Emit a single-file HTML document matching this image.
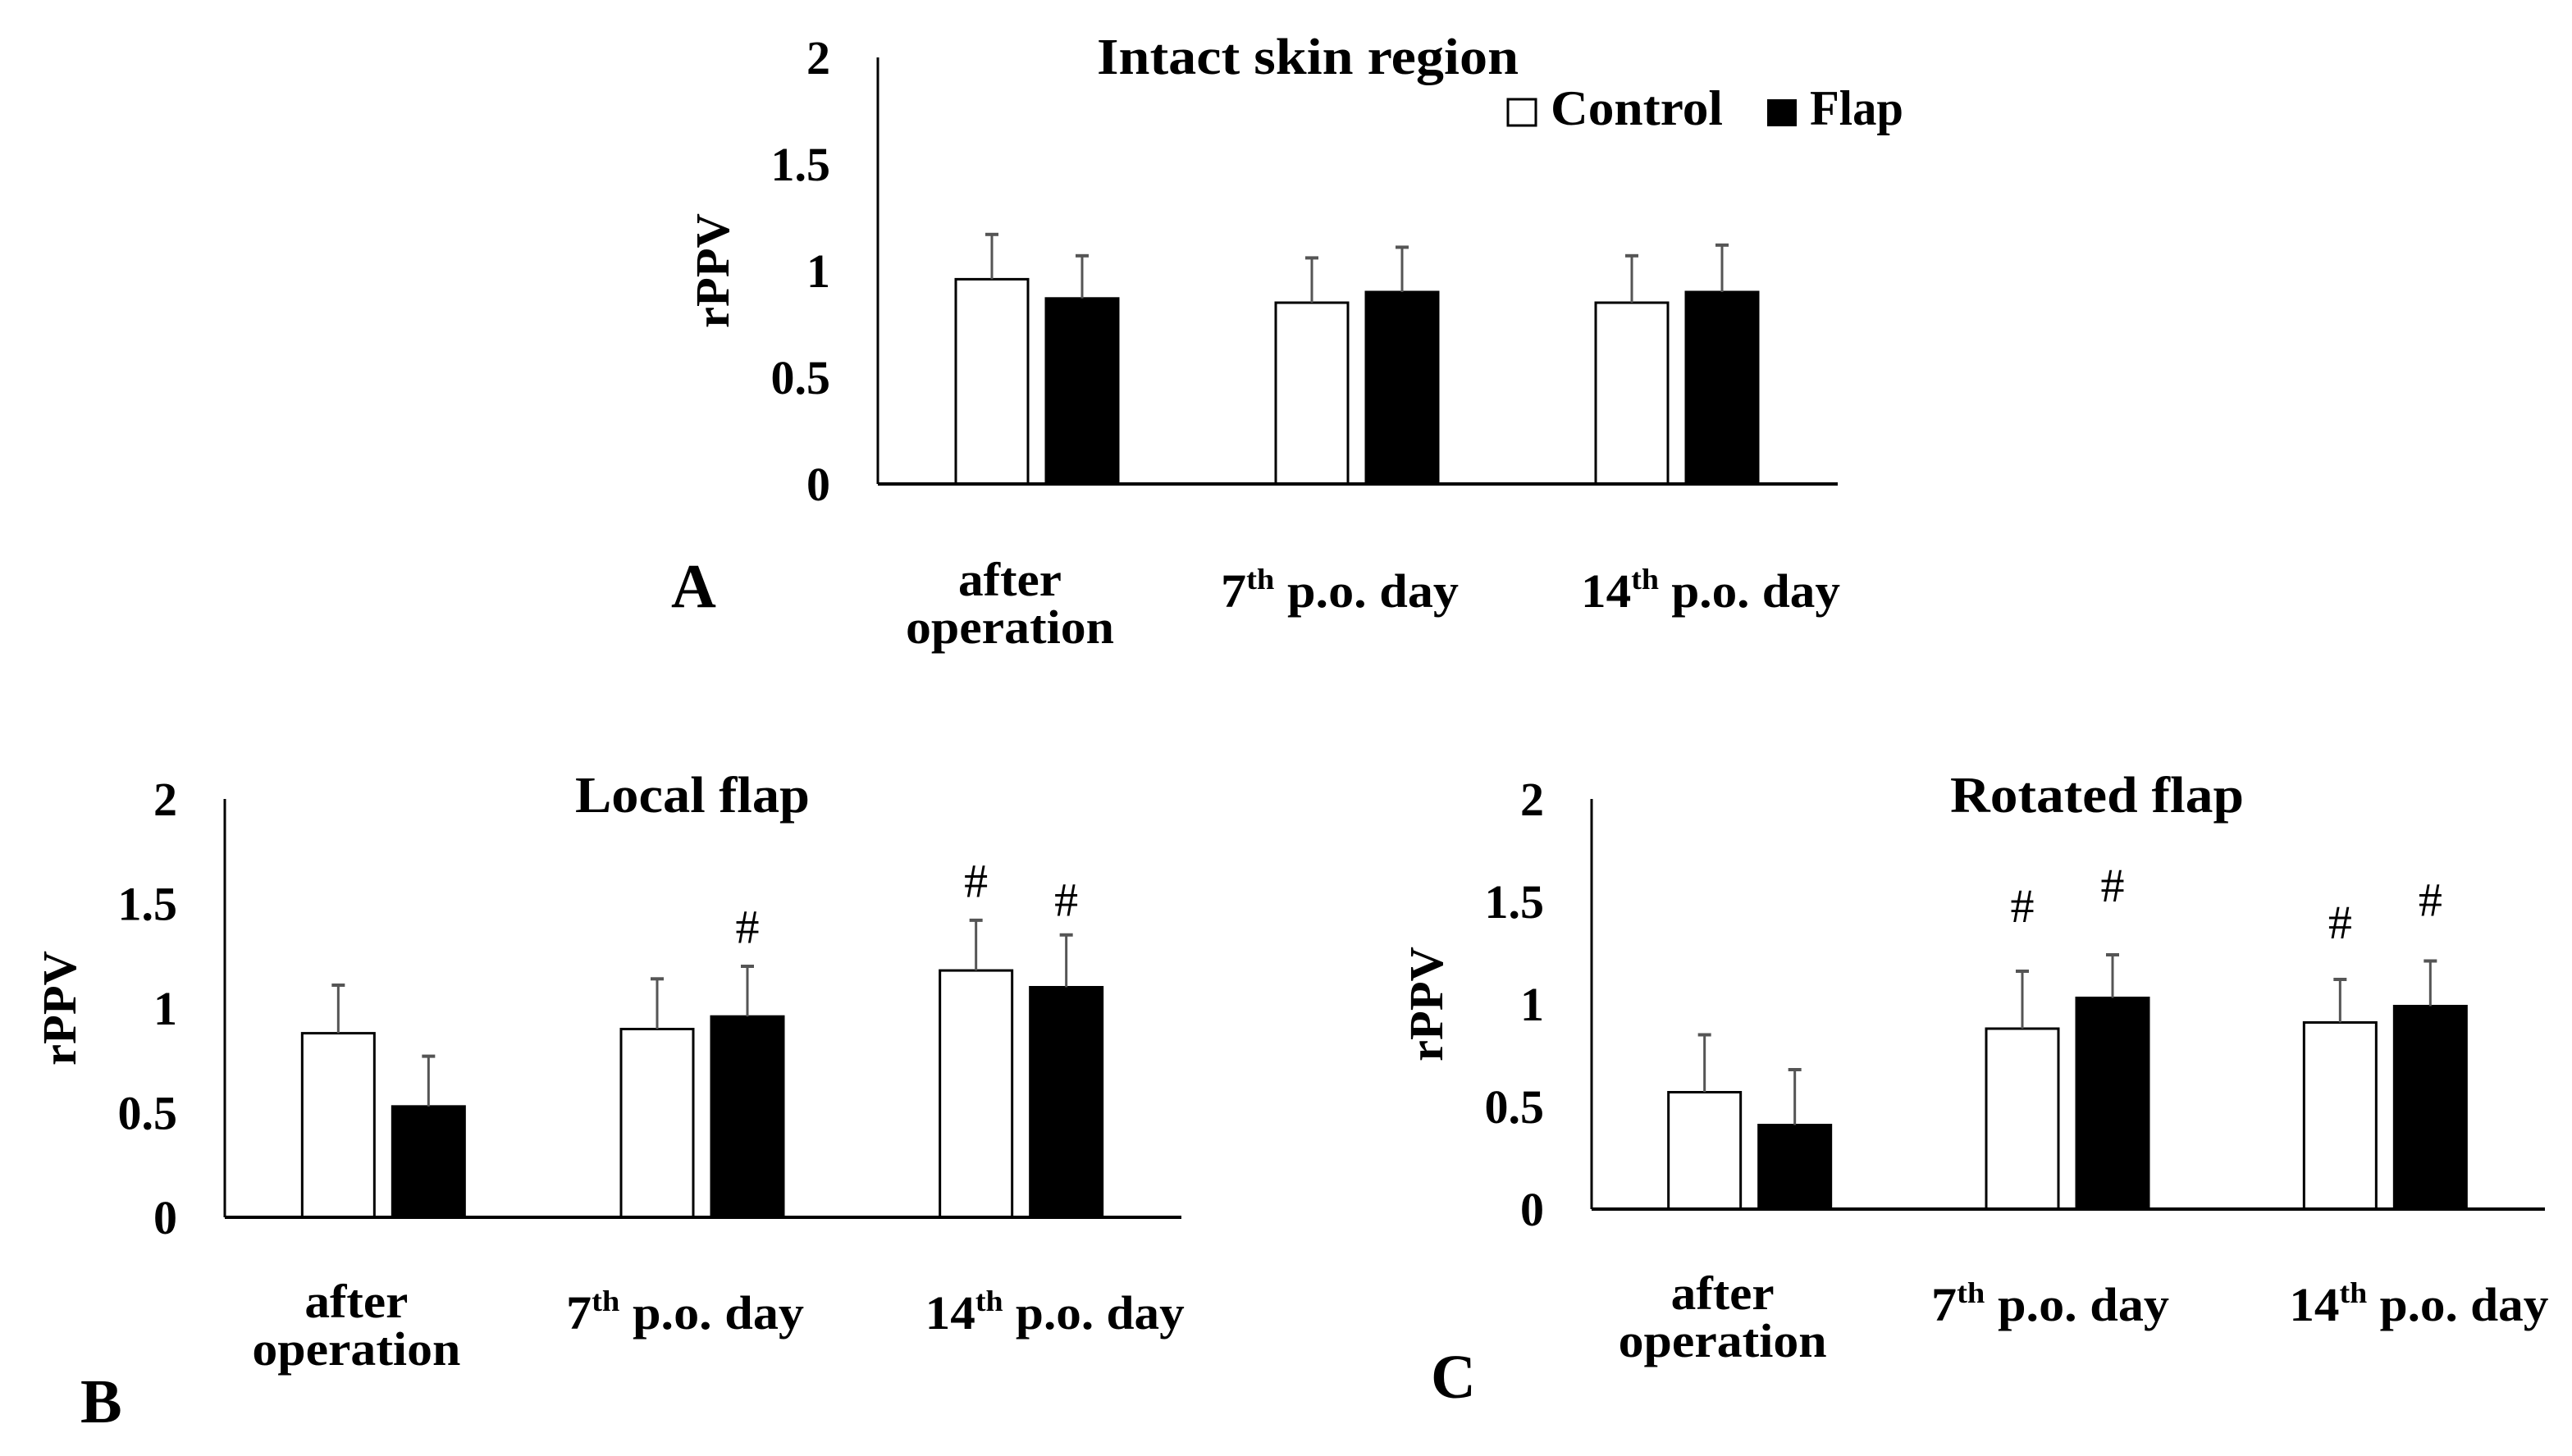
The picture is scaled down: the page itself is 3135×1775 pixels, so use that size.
<!DOCTYPE html>
<html><head><meta charset="utf-8">
<style>
html,body{margin:0;padding:0;background:#fff;}
svg{display:block;}
text{font-family:"Liberation Serif",serif;fill:#000;}
.b{font-weight:bold;}
</style></head>
<body>
<svg id="fig" width="3135" height="1775" viewBox="0 0 3135 1775" xmlns="http://www.w3.org/2000/svg">
<rect width="3135" height="1775" fill="#fff"/>
<g id="legend">
  <rect x="1838" y="121" width="34" height="32" fill="#fff" stroke="#000" stroke-width="3"/>
  <text class="b" x="1890" y="152" font-size="60" textLength="210" lengthAdjust="spacingAndGlyphs">Control</text>
  <rect x="2154" y="121" width="36" height="33" fill="#000"/>
  <text class="b" x="2206" y="152" font-size="60" textLength="114" lengthAdjust="spacingAndGlyphs">Flap</text>
</g>
</svg>
<script>
// ---- data ----
const categories = ["after operation", "7th p.o. day", "14th p.o. day"];
const yTicks = [0, 0.5, 1, 1.5, 2];
const yTickLabels = ["0", "0.5", "1", "1.5", "2"];

const intactControl = [0.96, 0.85, 0.85];
const intactControlErr = [0.21, 0.21, 0.22];
const intactFlap = [0.87, 0.90, 0.90];
const intactFlapErr = [0.20, 0.21, 0.22];

const localControl = [0.88, 0.90, 1.18];
const localControlErr = [0.23, 0.24, 0.24];
const localFlap = [0.53, 0.96, 1.10];
const localFlapErr = [0.24, 0.24, 0.25];
const localControlMark = [null, null, 1.61];
const localFlapMark = [null, 1.39, 1.52];

const rotatedControl = [0.57, 0.88, 0.91];
const rotatedControlErr = [0.28, 0.28, 0.21];
const rotatedFlap = [0.41, 1.03, 0.99];
const rotatedFlapErr = [0.27, 0.21, 0.22];
const rotatedControlMark = [null, 1.48, 1.40];
const rotatedFlapMark = [null, 1.58, 1.51];

const NS = "http://www.w3.org/2000/svg";
const svg = document.getElementById("fig");
function mk(tag, attrs, parent, txt) {
  const e = document.createElementNS(NS, tag);
  for (const k in attrs) e.setAttribute(k, attrs[k]);
  if (txt !== undefined) e.textContent = txt;
  parent.appendChild(e);
  return e;
}

function drawPanel(p) {
  const g = mk("g", {}, svg);
  
  
  const y = v => p.y0 - v * p.unit;
  const band = (p.xEnd - p.x0) / categories.length;
  const cx = i => p.x0 + band * (i + 0.5);

  const t = mk("text", {class: "b", x: p.titleX, y: p.titleY, "font-size": 62, "text-anchor": "middle", textLength: p.titleW, lengthAdjust: "spacingAndGlyphs"}, g, p.title);
  
  

  yTicks.forEach((v, i) => {
    const tl = mk("text", {class: "b", x: p.x0 - 58, y: y(v) + 20, "font-size": 58, "text-anchor": "end"}, g, yTickLabels[i]);
    
    
  });

  const yt = mk("text", {class: "b", x: 0, y: 0, "font-size": 58, "text-anchor": "middle", transform: `translate(${p.x0 - 182},${(p.y0 + y(2)) / 2}) rotate(-90)`, textLength: 140, lengthAdjust: "spacingAndGlyphs"}, g, "rPPV");
  
  

  const series = [
    {vals: p.control, err: p.controlErr, mark: p.controlMark, off: -100, fill: "#fff", nm: "control"},
    {vals: p.flap, err: p.flapErr, mark: p.flapMark, off: 10, fill: "#000", nm: "flap"}
  ];
  series.forEach(s => {
    s.vals.forEach((v, i) => {
      const bx = cx(i) + s.off;
      const r = mk("rect", {x: bx, y: y(v), width: 88, height: p.y0 - y(v), fill: s.fill, stroke: "#000", "stroke-width": 3}, g);
      
      
      const mx = bx + 44, top = y(v + s.err[i]);
      const el = mk("line", {x1: mx, x2: mx, y1: y(v), y2: top, stroke: "#555", "stroke-width": 3}, g);
      
      
      const cap = mk("line", {x1: mx - 8, x2: mx + 8, y1: top, y2: top, stroke: "#555", "stroke-width": 4}, g);
      
      
      if (s.mark && s.mark[i] != null) {
        const h = mk("text", {x: mx, y: y(s.mark[i]) + 20, "font-size": 58, "text-anchor": "middle"}, g, "#");
        
        
      }
    });
  });

  const ya = mk("line", {x1: p.x0, x2: p.x0, y1: y(2), y2: p.y0, stroke: "#000", "stroke-width": 3}, g);
  
  
  const xa = mk("line", {x1: p.x0, x2: p.xEnd, y1: p.y0, y2: p.y0, stroke: "#000", "stroke-width": 4}, g);
  
  

  categories.forEach((c, i) => {
    if (i === 0) {
      const x = cx(i) - 34;
      const a = mk("text", {class: "b", x: x, y: p.catY - 14, "font-size": 58, "text-anchor": "middle", textLength: 126, lengthAdjust: "spacingAndGlyphs"}, g, "after");
      
      
      const o = mk("text", {class: "b", x: x, y: p.catY + 44, "font-size": 58, "text-anchor": "middle", textLength: 254, lengthAdjust: "spacingAndGlyphs"}, g, "operation");
      
      
    } else {
      const parts = c.match(/^(\d+)(th)(.*)$/);
      const lx = cx(i) + (i === 2 ? 40 : -22);
      const w = i === 2 ? 316 : 290;
      const tx = mk("text", {class: "b", x: lx - w / 2, y: p.catY, "font-size": 58}, g);
      
      
      mk("tspan", {}, tx, parts[1]);
      mk("tspan", {"font-size": 36, dy: -22}, tx, parts[2]);
      mk("tspan", {dy: 22}, tx, parts[3]);
      tx.setAttribute("textLength", w);
      tx.setAttribute("lengthAdjust", "spacingAndGlyphs");
    }
  });

  const L = mk("text", {class: "b", x: p.letterX, y: p.letterY, "font-size": 76}, g, p.letter);
  
  
}

drawPanel({name: "panel-a-intact-skin", title: "Intact skin region", titleX: 1594, titleY: 90, titleW: 514,
  x0: 1070, xEnd: 2240, y0: 590, unit: 260,
  control: intactControl, controlErr: intactControlErr, flap: intactFlap, flapErr: intactFlapErr,
  controlMark: null, flapMark: null, catY: 740, letter: "A", letterX: 818, letterY: 740});

drawPanel({name: "panel-b-local-flap", title: "Local flap", titleX: 844, titleY: 990, titleW: 286,
  x0: 274, xEnd: 1440, y0: 1484, unit: 255,
  control: localControl, controlErr: localControlErr, flap: localFlap, flapErr: localFlapErr,
  controlMark: localControlMark, flapMark: localFlapMark, catY: 1620, letter: "B", letterX: 98, letterY: 1734});

drawPanel({name: "panel-c-rotated-flap", title: "Rotated flap", titleX: 2556, titleY: 990, titleW: 358,
  x0: 1940, xEnd: 3102, y0: 1474, unit: 250,
  control: rotatedControl, controlErr: rotatedControlErr, flap: rotatedFlap, flapErr: rotatedFlapErr,
  controlMark: rotatedControlMark, flapMark: rotatedFlapMark, catY: 1610, letter: "C", letterX: 1744, letterY: 1704});
</script>
</body></html>
